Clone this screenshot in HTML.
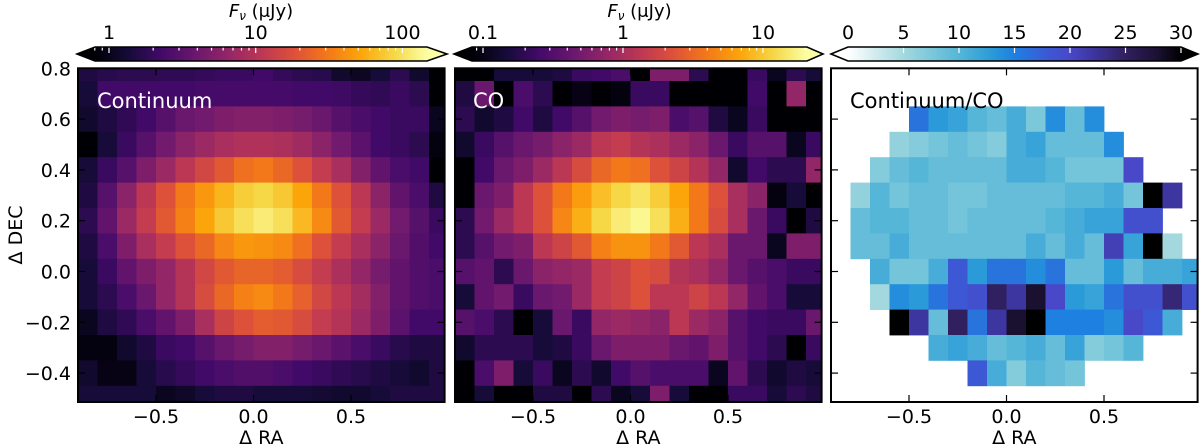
<!DOCTYPE html>
<html><head><meta charset="utf-8">
<style>
html,body{margin:0;padding:0;background:#fff;}
svg{display:block;font-family:"DejaVu Sans","Liberation Sans",sans-serif;}
</style></head>
<body>
<svg id="fig" width="1200" height="446" viewBox="0 0 1200 446" xmlns="http://www.w3.org/2000/svg"></svg>
<script>
// ---- data: normalized log-flux level (0 = colorbar min, 1 = colorbar max), rows top (DEC 0.8) to bottom (DEC -0.5), cols RA -0.85..0.95
const raCenters = [-0.85,-0.75,-0.65,-0.55,-0.45,-0.35,-0.25,-0.15,-0.05,0.05,0.15,0.25,0.35,0.45,0.55,0.65,0.75,0.85,0.95];
const decCenters = [0.8,0.7,0.6,0.5,0.4,0.3,0.2,0.1,0.0,-0.1,-0.2,-0.3,-0.4,-0.5];
const continuumLevel = [
[0.12,0.14,0.15,0.15,0.16,0.16,0.17,0.18,0.18,0.2,0.17,0.15,0.14,0.08,0.06,0.1,0.15,0.08,0.0],
[0.1,0.2,0.2,0.2,0.2,0.2,0.21,0.21,0.21,0.21,0.21,0.2,0.2,0.19,0.17,0.16,0.18,0.15,0.0],
[0.08,0.12,0.16,0.2,0.25,0.3,0.32,0.35,0.36,0.36,0.35,0.33,0.3,0.25,0.22,0.2,0.18,0.18,0.05],
[0.0,0.1,0.18,0.25,0.32,0.38,0.42,0.45,0.47,0.47,0.46,0.43,0.38,0.32,0.26,0.2,0.18,0.15,0.02],
[0.1,0.18,0.25,0.35,0.42,0.5,0.56,0.62,0.68,0.7,0.66,0.6,0.52,0.45,0.36,0.28,0.22,0.2,0.0],
[0.12,0.25,0.38,0.5,0.6,0.7,0.77,0.83,0.88,0.9,0.87,0.8,0.7,0.6,0.5,0.38,0.28,0.22,0.12],
[0.15,0.28,0.42,0.52,0.62,0.72,0.8,0.87,0.92,0.95,0.92,0.84,0.74,0.62,0.52,0.42,0.32,0.25,0.18],
[0.12,0.22,0.35,0.45,0.52,0.6,0.66,0.73,0.77,0.76,0.74,0.68,0.6,0.52,0.45,0.38,0.3,0.24,0.2],
[0.1,0.18,0.28,0.35,0.4,0.48,0.56,0.62,0.65,0.65,0.63,0.58,0.52,0.46,0.4,0.33,0.28,0.24,0.22],
[0.1,0.15,0.22,0.3,0.4,0.48,0.58,0.66,0.72,0.74,0.7,0.64,0.56,0.5,0.44,0.36,0.28,0.24,0.22],
[0.05,0.12,0.16,0.22,0.28,0.35,0.45,0.55,0.6,0.63,0.62,0.58,0.52,0.48,0.42,0.35,0.26,0.2,0.2],
[0.02,0.02,0.08,0.12,0.18,0.2,0.25,0.3,0.33,0.36,0.36,0.33,0.3,0.26,0.22,0.18,0.14,0.12,0.12],
[0.08,0.03,0.03,0.1,0.14,0.17,0.2,0.22,0.24,0.24,0.22,0.2,0.18,0.16,0.14,0.12,0.1,0.08,0.12],
[0.1,0.1,0.1,0.1,0.05,0.07,0.1,0.12,0.12,0.1,0.1,0.1,0.09,0.08,0.08,0.1,0.12,0.12,0.12]
];
const coLevel = [
[0.0,0.0,0.1,0.1,0.1,0.12,0.18,0.2,0.22,0.0,0.35,0.35,0.15,0.0,0.0,0.18,0.05,0.15,0.1],
[0.12,0.3,0.0,0.22,0.15,0.0,0.03,0.0,0.02,0.18,0.18,0.0,0.0,0.0,0.0,0.2,0.0,0.4,0.0],
[0.15,0.08,0.12,0.2,0.12,0.2,0.25,0.32,0.35,0.33,0.35,0.22,0.25,0.12,0.05,0.18,0.0,0.0,0.0],
[0.08,0.18,0.25,0.3,0.33,0.38,0.42,0.5,0.52,0.48,0.46,0.42,0.38,0.3,0.18,0.25,0.25,0.05,0.18],
[0.0,0.2,0.3,0.35,0.42,0.5,0.58,0.66,0.7,0.68,0.6,0.55,0.48,0.4,0.08,0.2,0.15,0.15,0.4],
[0.0,0.3,0.35,0.5,0.6,0.7,0.78,0.85,0.9,0.93,0.88,0.8,0.7,0.6,0.45,0.38,0.02,0.1,0.0],
[0.15,0.32,0.42,0.5,0.6,0.73,0.82,0.9,0.95,0.98,0.92,0.82,0.7,0.58,0.45,0.3,0.18,0.0,0.12],
[0.15,0.25,0.32,0.35,0.5,0.55,0.62,0.72,0.76,0.76,0.7,0.62,0.5,0.45,0.3,0.3,0.05,0.35,0.35],
[0.25,0.28,0.15,0.3,0.38,0.4,0.42,0.52,0.55,0.6,0.58,0.48,0.45,0.4,0.3,0.25,0.22,0.18,0.18],
[0.1,0.28,0.32,0.18,0.3,0.32,0.42,0.52,0.55,0.6,0.5,0.5,0.55,0.5,0.4,0.28,0.22,0.1,0.1],
[0.25,0.22,0.15,0.0,0.1,0.3,0.18,0.4,0.42,0.4,0.38,0.5,0.42,0.38,0.25,0.2,0.18,0.18,0.3],
[0.08,0.15,0.15,0.15,0.1,0.12,0.18,0.3,0.35,0.35,0.35,0.3,0.28,0.35,0.25,0.2,0.15,0.0,0.18],
[0.0,0.22,0.35,0.1,0.18,0.05,0.15,0.08,0.2,0.25,0.22,0.22,0.22,0.05,0.28,0.15,0.08,0.12,0.1],
[0.0,0.1,0.0,0.0,0.12,0.12,0.0,0.15,0.05,0.1,0.35,0.1,0.0,0.0,0.18,0.18,0.1,0.15,0.12]
];
const N = null;
const ratioValues = [
[N,N,N,N,N,N,N,N,N,N,N,N,N,N,N,N,N,N,N],
[N,N,N,N,N,N,N,N,N,N,N,N,N,N,N,N,N,N,N],
[N,N,N,N,16,13,12,10,9,11,7.5,14,9,14,N,N,N,N,N],
[N,N,N,6,7,8,9,8,7,11,12,9,9,9,14,N,N,N,N],
[N,N,7,9,10,9,9,9,9,11,11,10,8,8,8,20,N,N,N],
[N,6,10,8,9,9,8,8,9,9,9,9,10,10,11,8,30,22,N],
[N,9,10,10,9,9,8,9,9,9,9,10,11,12,12,19,19,N,N],
[N,9,9,11,9,9,9,9,9,9,11,9,11,9,21,12,30,5,N],
[N,N,11,8,8,11,18,13,16,16,14,16,9,9,13,9,11,11,12],
[N,N,5,14,13,16,18,19,25,22,28,20,13,12,16,19,19,24,19],
[N,N,N,30,22,9,25,16,22,28,30,15,15,15,14,20,18,11,N],
[N,N,N,N,N,11,12,11,9,10,11,9,12,7,8,10,N,N,N],
[N,N,N,N,N,N,N,18,11,7,10,9,8,N,N,N,N,N],
[N,N,N,N,N,N,N,N,N,N,N,N,N,N,N,N,N,N,N]
];
const xTicks = [-0.5,0.0,0.5];
const xTickLabels = ["\u22120.5","0.0","0.5"];
const yTicks = [0.8,0.6,0.4,0.2,0.0,-0.2,-0.4];
const yTickLabels = ["0.8","0.6","0.4","0.2","0.0","\u22120.2","\u22120.4"];
const cb1Labels = ["1","10","100"];
const cb2Labels = ["0.1","1","10"];
const cb3Ticks = [0,5,10,15,20,25,30];

// ---- helpers
const svg = document.getElementById('fig');
const NS = 'http://www.w3.org/2000/svg';
function mk(tag, attrs, parent){const e=document.createElementNS(NS,tag);for(const k in attrs)e.setAttribute(k,attrs[k]);(parent||svg).appendChild(e);return e;}
function hex(h){return [parseInt(h.slice(1,3),16),parseInt(h.slice(3,5),16),parseInt(h.slice(5,7),16)];}
function interp(stops, t){
  t=Math.max(0,Math.min(1,t));
  for(let i=1;i<stops.length;i++){ if(t<=stops[i][0]){const a=stops[i-1],b=stops[i];const u=(t-a[0])/(b[0]-a[0]);const ca=hex(a[1]),cb=hex(b[1]);return 'rgb('+ca.map((v,j)=>Math.round(v+(cb[j]-v)*u)).join(',')+')';}}
  return stops[stops.length-1][1];
}
const inferno=[[0,'#000004'],[0.1,'#160b39'],[0.2,'#420a68'],[0.3,'#6a176e'],[0.4,'#932667'],[0.5,'#bc3754'],[0.6,'#dd513a'],[0.7,'#f37819'],[0.8,'#fca50a'],[0.9,'#f6d746'],[1,'#fcffa4']];
const ratioMap=[[0,'#ffffff'],[5/30,'#a3d9de'],[10/30,'#55b6d8'],[13/30,'#2a9ad8'],[15/30,'#1e80e0'],[18/30,'#3c58d4'],[20/30,'#4848c8'],[22/30,'#3e36a0'],[25/30,'#302060'],[28/30,'#1a1030'],[1,'#000000']];

const Y0=271.5, YS=254, TOP=68.3, BOT=402, W=366.6;
const yS = v => Y0 - v*YS;
const panels=[{left:78,data:continuumLevel,color:v=>interp(inferno,v),name:'continuum'},
              {left:455,data:coLevel,color:v=>interp(inferno,v),name:'co'},
              {left:831,data:ratioValues,color:v=>interp(ratioMap,v/30),name:'ratio'}];

panels.forEach((p,pi)=>{
  const xS = v => p.left + (v+0.9)*195;
  const g = mk('g',{});
  
  
  const cp = mk('clipPath',{id:'cp'+pi},g);
  mk('rect',{x:p.left,y:TOP,width:W,height:BOT-TOP},cp);
  const cells = mk('g',{'clip-path':'url(#cp'+pi+')'},g);
  
  
  decCenters.forEach((d,r)=>{
    raCenters.forEach((ra,c)=>{
      const v=p.data[r][c];
      if(v===null||v===undefined) return;
      const x1=xS(ra-0.05), x2=xS(ra+0.05), y1=yS(d+0.05), y2=yS(d-0.05);
      const cell=mk('rect',{x:x1.toFixed(2),y:y1.toFixed(2),width:(x2-x1+0.4).toFixed(2),height:(y2-y1+0.4).toFixed(2),fill:p.color(v)},cells);
      
      
    });
  });
  xTicks.forEach((t,i)=>{
    const x=xS(t);
    mk('line',{x1:x,y1:TOP,x2:x,y2:TOP+7,stroke:'#000','stroke-width':1.2},g);
    mk('line',{x1:x,y1:BOT,x2:x,y2:BOT-7,stroke:'#000','stroke-width':1.2},g);
    const tl=mk('text',{x:x,y:423,'font-size':19,'text-anchor':'middle',fill:'#000'},g);
    tl.textContent=xTickLabels[i];
    
    
  });
  yTicks.forEach((t,i)=>{
    const y=yS(t);
    mk('line',{x1:p.left,y1:y,x2:p.left+7,y2:y,stroke:'#000','stroke-width':1.2},g);
    mk('line',{x1:p.left+W,y1:y,x2:p.left+W-7,y2:y,stroke:'#000','stroke-width':1.2},g);
    if(pi===0){
      const tl=mk('text',{x:71,y:y+7,'font-size':19,'text-anchor':'end',fill:'#000'},g);
      tl.textContent=yTickLabels[i];
      
      
    }
  });
  const fr=mk('rect',{x:p.left,y:TOP,width:W,height:BOT-TOP,fill:'none',stroke:'#000','stroke-width':2},g);
  
  
  const xl=mk('text',{x:p.left+W/2,y:444,'font-size':19,'text-anchor':'middle',fill:'#000'},g);
  xl.textContent='\u0394 RA';
  
  
});

const yl=mk('text',{x:0,y:0,'font-size':19,'text-anchor':'middle',fill:'#000',transform:'translate(22,235) rotate(-90)'});
yl.textContent='\u0394 DEC';



[[97,108,'Continuum','#fff','continuum-label'],[473,108,'CO','#fff','co-label'],[850,108,'Continuum/CO','#000','ratio-label']].forEach(a=>{
  const t=mk('text',{x:a[0],y:a[1],'font-size':21,fill:a[3]});
  t.textContent=a[2];
  
  
});

function colorbar(name, tipL, x1, x2, tipR, colorFn, ticks, title){
  const g=mk('g',{});
  
  
  const yT=47, yB=61, ym=54;
  mk('polygon',{points:`${x1},${yT} ${tipL},${ym} ${x1},${yB}`,fill:colorFn(0)},g);
  mk('polygon',{points:`${x2},${yT} ${tipR},${ym} ${x2},${yB}`,fill:colorFn(1)},g);
  const n=120;
  for(let i=0;i<n;i++){
    mk('rect',{x:(x1+(x2-x1)*i/n).toFixed(2),y:yT,width:((x2-x1)/n+0.6).toFixed(2),height:yB-yT,fill:colorFn((i+0.5)/n)},g);
  }
  ticks.forEach(t=>{
    mk('line',{x1:t.x,y1:yT,x2:t.x,y2:yT+(t.major?6:3.5),stroke:'#fff','stroke-width':1.2},g);
    if(t.label!==undefined){
      const tl=mk('text',{x:t.x,y:39,'font-size':19,'text-anchor':'middle',fill:'#000'},g);
      tl.textContent=t.label;
      
      
    }
  });
  mk('polygon',{points:`${tipL},${ym} ${x1},${yT} ${x2},${yT} ${tipR},${ym} ${x2},${yB} ${x1},${yB}`,fill:'none',stroke:'#000','stroke-width':1.6},g);
  if(title){
    const tt=mk('text',{x:(x1+x2)/2,y:17,'font-size':18,'text-anchor':'middle',fill:'#000'},g);
    tt.innerHTML='<tspan font-style="italic">F</tspan><tspan font-style="italic" font-size="12" dy="3">\u03bd</tspan><tspan dy="-3"> (\u03bcJy)</tspan>';
    
    
  }
}
// x0 = pixel position of the first labelled decade
function logTicks(x0, dec, x1, x2, labels){
  const out=[];
  for(let e=-1;e<=3;e++){
    for(let m=1;m<10;m++){
      const x=x0+(e+Math.log10(m))*dec;
      if(x<x1-0.5||x>x2+0.5) continue;
      const t={x:x,major:m===1};
      if(m===1&&e>=0&&labels[e]!==undefined) t.label=labels[e];
      out.push(t);
    }
  }
  return out;
}
colorbar('continuum-colorbar',77,95,427,447,v=>interp(inferno,v),logTicks(109,146.7,95,427,cb1Labels),true);
colorbar('co-colorbar',454,472,807,823,v=>interp(inferno,v),logTicks(483,140,472,807,cb2Labels),true);
colorbar('ratio-colorbar',831,848,1181,1198,v=>interp(ratioMap,v),cb3Ticks.map(t=>({x:848+t*(333/30),major:true,label:String(t)})),false);
</script>
</body></html>
